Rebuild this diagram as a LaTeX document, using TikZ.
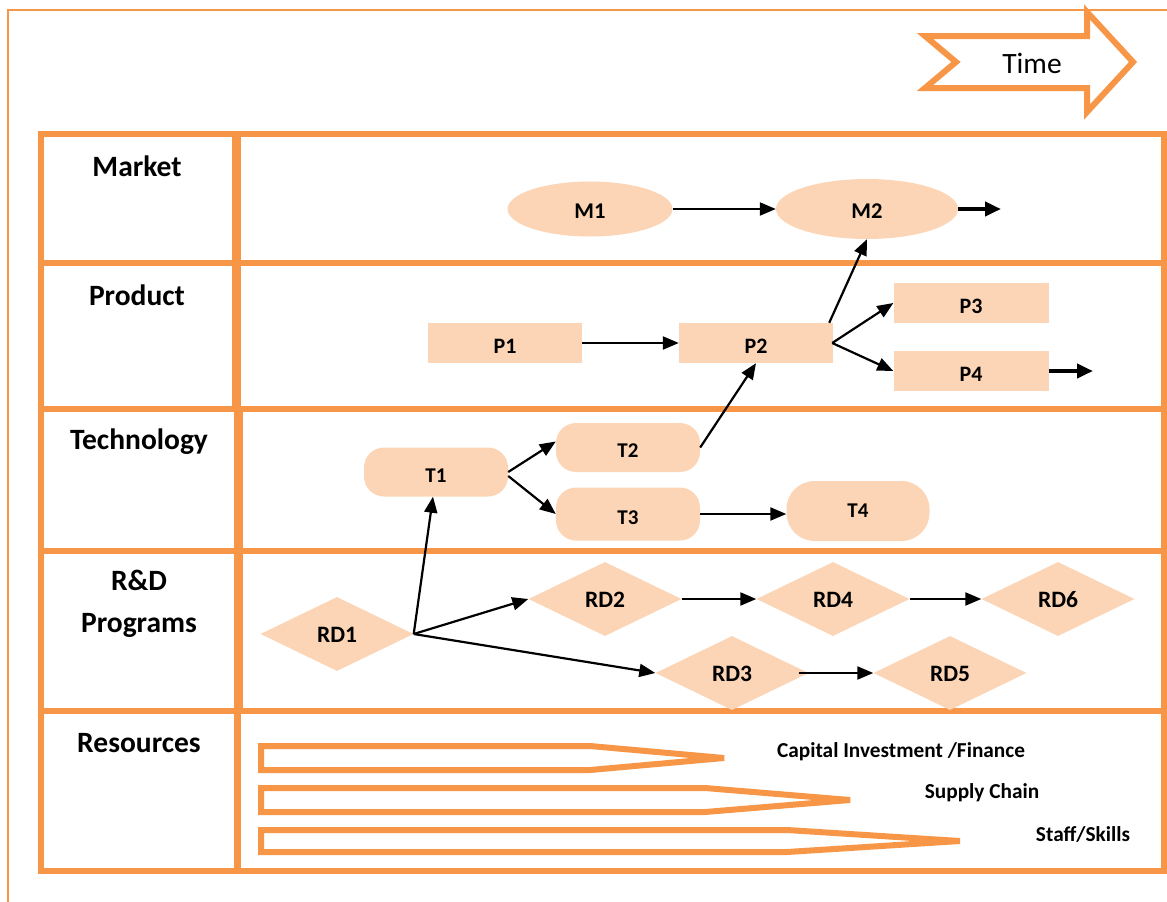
\documentclass[tikz,border=0pt]{standalone}
\usepackage{fontspec}
\setmainfont{Carlito}
\usetikzlibrary{shapes.geometric,arrows.meta}
\definecolor{frame}{HTML}{F79646}
\definecolor{soft}{HTML}{FBD5B5}

\begin{document}
\begin{tikzpicture}[x=1pt,y=-1pt,
  grid/.style={draw=frame,line width=6pt},
  rowlabel/.style={font=\fontsize{29.5}{42}\selectfont\bfseries,align=center,inner sep=0pt},
  box/.style={fill=soft,inner sep=0pt,font=\fontsize{22}{26}\selectfont\bfseries},
  mkt/.style={box,ellipse,font=\fontsize{22.5}{26}\selectfont\bfseries,text height=18pt,text depth=0pt},
  prod/.style={box,rectangle,minimum width=154pt,minimum height=40pt,text height=21pt,text depth=0pt},
  tech/.style={box,rectangle,rounded corners=20pt,minimum width=144pt,minimum height=49pt,font=\fontsize{21}{25}\selectfont\bfseries,text height=20pt,text depth=0pt},
  rnd/.style={box,diamond,minimum width=153pt,minimum height=74pt,font=\fontsize{23.5}{27}\selectfont\bfseries,text height=17pt,text depth=0pt},
  link/.style={-{Triangle[length=16pt,width=13pt]},line width=2.2pt},
  lead/.style={-{Triangle[length=16pt,width=14pt]},line width=4pt},
  bar/.style={draw=frame,line width=6pt},
  reslabel/.style={font=\fontsize{21.3}{25}\selectfont\bfseries,inner sep=0pt}]

\useasboundingbox (0,0) rectangle (1167,902);

% thin page frame
\draw[frame,line width=2pt] (8,902) -- (8,10) -- (1167,10);

% time arrow
\draw[frame,line width=6pt] (925,36) -- (1087,36) -- (1087,12) -- (1133,62)
  -- (1087,112) -- (1087,88) -- (925,88) -- (956,62) -- cycle;
\node[font=\fontsize{29.5}{33}\selectfont,inner sep=0pt] (time) at (1032,63) {Time};

% table
\draw[grid] (41,134) rectangle (1164,871);
\foreach \yy in {263,409,551,711} \draw[grid] (41,\yy) -- (1164,\yy);
\draw[draw=frame,line width=9pt] (236,134) -- (236,409);
\draw[draw=frame,line width=9pt] (238.5,409) -- (238.5,711);
\draw[draw=frame,line width=7pt] (237.5,711) -- (237.5,871);

% row headings
\node[rowlabel] (hMarket) at (137,166) {Market};
\node[rowlabel] (hProduct) at (137,295) {Product};
\node[rowlabel] (hTech) at (139,442) {Technology};
\node[rowlabel] (hRD) at (139,604) {R\&D\\Programs};
\node[rowlabel] (hRes) at (139,743) {Resources};

% market
\node[mkt,minimum width=165pt,minimum height=55pt] (M1) at (590,209) {M1};
\node[mkt,minimum width=182pt,minimum height=60pt] (M2) at (867,209) {M2};
\coordinate (Mend) at (1001,209);

% product
\node[prod] (P1) at (505,343) {P1};
\node[prod] (P2) at (756,343) {P2};
\node[prod,minimum width=155pt] (P3) at (971,303) {P3};
\node[prod,minimum width=155pt] (P4) at (971,371) {P4};
\coordinate (Pend) at (1093,371);

% technology
\node[tech] (T1) at (436,472) {T1};
\node[tech] (T2) at (628,447.5) {T2};
\node[tech,minimum height=53pt] (T3) at (628,514) {T3};
\node[tech,rounded corners=28pt,minimum width=143pt,minimum height=60pt,text height=13pt] (T4) at (858,511) {T4};

% R&D programs
\node[rnd] (RD1) at (337,634) {RD1};
\node[rnd] (RD2) at (605,599) {RD2};
\node[rnd] (RD4) at (833,599) {RD4};
\node[rnd] (RD6) at (1058,599) {RD6};
\node[rnd] (RD3) at (732,673) {RD3};
\node[rnd] (RD5) at (950,673) {RD5};

% links
\draw[link] (M1.east) -- (M2.west);
\draw[lead] (M2.east) -- (Mend);
\draw[link] (P1.east) -- (P2.west);
\draw[link] ([xshift=-4pt]P2.north east) -- (M2.south);
\draw[link] ([xshift=-1pt]P2.east) -- (P3.west);
\draw[link] ([xshift=-1pt]P2.east) -- (P4.west);
\draw[lead] (P4.east) -- (Pend);
\draw[link] (T1.east) -- ([yshift=6pt]T2.west);
\draw[link] ([yshift=-4pt]T1.east) -- (T3.west);
\draw[link] (T2.east) -- (P2.south);
\draw[link] (T3.east) -- (T3.east -| T4.west);
\draw[link] (RD1.east) -- ([xshift=-3pt]T1.south);
\draw[link] (RD1.east) -- (RD2.west);
\draw[link] (RD1.east) -- (RD3.west);
\draw[link] (RD2.east) -- (RD4.west);
\draw[link] (RD4.east) -- (RD6.west);
\draw[link] ([xshift=-10pt]RD3.east) -- (RD5.west);

% resources
\draw[bar] (261,746) -- (590,746) -- (724,758) -- (590,770) -- (261,770) -- cycle;
\draw[bar] (261,788) -- (705,788) -- (850,800) -- (705,812) -- (261,812) -- cycle;
\draw[bar] (261,830) -- (787,830) -- (960,841) -- (787,852) -- (261,852) -- cycle;
\node[reslabel] (rCap) at (901,752) {Capital Investment /Finance};
\node[reslabel] (rSup) at (982,793) {Supply Chain};
\node[reslabel] (rStaff) at (1083,834) {Staff/Skills};
\end{tikzpicture}
\end{document}
